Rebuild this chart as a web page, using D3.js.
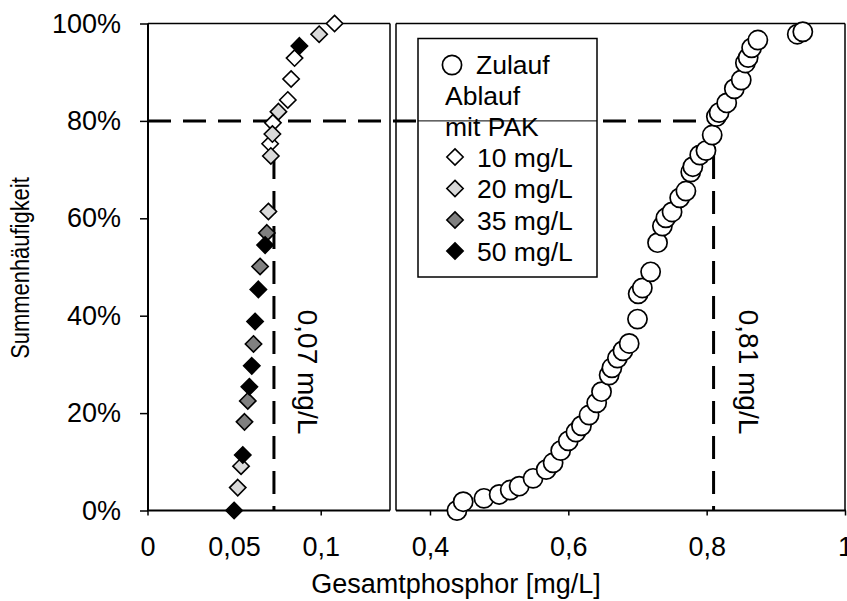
<!DOCTYPE html>
<html>
<head>
<meta charset="utf-8">
<script src="https://cdn.jsdelivr.net/npm/d3@7"></script>
<style>
  html, body { margin: 0; padding: 0; background: #fff; }
  svg { display: block; font-family: "Liberation Sans", Arial, sans-serif; }
</style>
</head>
<body>
<svg id="chart" width="847" height="601"></svg>
<script>
// ---------- data ----------
// Zulauf (influent): total phosphorus [mg/L] and cumulative frequency
const zulaufP = [0.439, 0.448, 0.478, 0.500, 0.516, 0.529, 0.549, 0.568, 0.578, 0.589, 0.600, 0.611, 0.619, 0.630, 0.641, 0.648, 0.659, 0.663, 0.671, 0.679, 0.688, 0.700, 0.701, 0.707, 0.719, 0.729, 0.736, 0.741, 0.750, 0.761, 0.770, 0.777, 0.780, 0.790, 0.799, 0.808, 0.814, 0.818, 0.829, 0.840, 0.850, 0.856, 0.860, 0.865, 0.874, 0.931, 0.939];
const zulaufF = [0.000, 0.018, 0.025, 0.033, 0.042, 0.050, 0.066, 0.084, 0.098, 0.123, 0.143, 0.161, 0.174, 0.196, 0.221, 0.244, 0.278, 0.293, 0.313, 0.328, 0.343, 0.393, 0.445, 0.457, 0.490, 0.550, 0.584, 0.601, 0.613, 0.642, 0.656, 0.695, 0.706, 0.730, 0.739, 0.771, 0.809, 0.817, 0.837, 0.866, 0.884, 0.919, 0.930, 0.950, 0.966, 0.978, 0.983];

// Ablauf mit PAK (effluent with powdered activated carbon)
const pak10P = [0.108, 0.0849, 0.0829, 0.0810, 0.0724, 0.0708];
const pak10F = [1.000, 0.929, 0.886, 0.843, 0.796, 0.753];
const pak20P = [0.0991, 0.0756, 0.0721, 0.0712, 0.0698, 0.0540, 0.0521];
const pak20F = [0.978, 0.819, 0.773, 0.728, 0.614, 0.091, 0.047];
const pak35P = [0.0689, 0.0650, 0.0612, 0.0579, 0.0560];
const pak35F = [0.570, 0.501, 0.342, 0.225, 0.182];
const pak50P = [0.0877, 0.0679, 0.0640, 0.0621, 0.0602, 0.0588, 0.0550, 0.0500];
const pak50F = [0.954, 0.545, 0.454, 0.388, 0.297, 0.254, 0.114, 0.000];

const pakLabels = ["10 mg/L", "20 mg/L", "35 mg/L", "50 mg/L"];
const pakColors = ["#ffffff", "#d9d9d9", "#808080", "#000000"];

// tick values (broken x axis: two segments)
const xTicksLeft = [0, 0.05, 0.1];
const xTicksRight = [0.4, 0.6, 0.8, 1];
const yTicks = [0, 0.2, 0.4, 0.6, 0.8, 1];

// reference markers
const refFreq = 0.8;
const refLeftP = 0.073;   // drawn position of the "0,07 mg/L" marker
const refRightP = 0.81;
const refLeftLabel = "0,07 mg/L";
const refRightLabel = "0,81 mg/L";

// ---------- layout ----------
const svg = d3.select("#chart");
const yTop = 23.5, yBot = 510.5;
const xL0 = 148, xL1 = 390, xR0 = 396, xR1 = 845;

const xLeft = d3.scaleLinear().domain([0, 0.14]).range([xL0 - 0.5, xL1]);
const xRight = d3.scaleLinear().domain([0.35, 1]).range([xR0 - 0.6, xR1]);
const y = d3.scaleLinear().domain([0, 1]).range([yBot, yTop]);

const de = d3.formatLocale({decimal: ",", thousands: ".", grouping: [3], currency: ["", " €"]});
const fmtX = de.format("~g");
const fmtY = d3.format(".0%");

const FONT = 27;

// ---------- axes ----------
const yAxis = d3.axisLeft(y).tickValues(yTicks).tickSize(8).tickPadding(19).tickFormat(fmtY);
const gy = svg.append("g").attr("transform", `translate(${xL0},0)`).call(yAxis);
gy.select(".domain").remove();
gy.selectAll(".tick line").attr("stroke", "#000").attr("stroke-width", 1.5);
gy.selectAll(".tick text").attr("font-size", FONT).attr("fill", "#000")
  .attr("font-family", "Liberation Sans, Arial, sans-serif");

function xAxisGroup(scale, ticks) {
  const ax = d3.axisBottom(scale).tickValues(ticks).tickSize(5).tickPadding(21).tickFormat(fmtX);
  const g = svg.append("g").attr("transform", `translate(0,${yBot})`).call(ax);
  g.select(".domain").remove();
  g.selectAll(".tick line").attr("stroke", "#000").attr("stroke-width", 1.5);
  g.selectAll(".tick text").attr("font-size", FONT).attr("fill", "#000")
    .attr("font-family", "Liberation Sans, Arial, sans-serif");
  return g;
}
xAxisGroup(xLeft, xTicksLeft);
xAxisGroup(xRight, xTicksRight);

// frames
const frame = svg.append("g").attr("fill", "none").attr("stroke", "#000");
frame.append("line").attr("x1", xL0).attr("x2", xL0).attr("y1", yTop).attr("y2", yBot).attr("stroke-width", 2);
frame.append("line").attr("x1", xL0).attr("x2", xL1).attr("y1", yTop).attr("y2", yTop).attr("stroke-width", 1.5);
frame.append("line").attr("x1", xL1).attr("x2", xL1).attr("y1", yTop).attr("y2", yBot).attr("stroke-width", 1.5);
frame.append("line").attr("x1", xR0).attr("x2", xR0).attr("y1", yTop).attr("y2", yBot).attr("stroke-width", 1.5);
frame.append("line").attr("x1", xR0).attr("x2", xR1).attr("y1", yTop).attr("y2", yTop).attr("stroke-width", 1.5);
frame.append("line").attr("x1", xR1).attr("x2", xR1).attr("y1", yTop).attr("y2", yBot).attr("stroke-width", 1.5);
frame.append("line").attr("x1", xL0 - 1).attr("x2", xL1).attr("y1", yBot).attr("y2", yBot).attr("stroke-width", 2.2);
frame.append("line").attr("x1", xR0).attr("x2", xR1 + 1).attr("y1", yBot).attr("y2", yBot).attr("stroke-width", 2.2);

// axis titles
svg.append("text").attr("x", 456).attr("y", 593).attr("text-anchor", "middle")
  .attr("font-size", FONT).text("Gesamtphosphor [mg/L]");
svg.append("text").attr("transform", "translate(29,268) rotate(-90) scale(0.86,1)").attr("text-anchor", "middle")
  .attr("font-size", 25.5).text("Summenhäufigkeit");

// ---------- reference lines ----------
const dash = "23,12";
const refs = svg.append("g").attr("stroke", "#000").attr("stroke-width", 3).attr("stroke-dasharray", dash).attr("fill", "none");
refs.append("line").attr("x1", xL0).attr("x2", xRight(refRightP)).attr("y1", y(refFreq)).attr("y2", y(refFreq));
refs.append("line").attr("x1", xLeft(refLeftP)).attr("x2", xLeft(refLeftP)).attr("y1", y(refFreq)).attr("y2", yBot);
refs.append("line").attr("x1", xRight(refRightP)).attr("x2", xRight(refRightP)).attr("y1", y(refFreq)).attr("y2", yBot);

svg.append("text").attr("transform", `translate(${xLeft(refLeftP) + 24},372) rotate(90)`)
  .attr("text-anchor", "middle").attr("font-size", 28).text(refLeftLabel);
svg.append("text").attr("transform", `translate(${xRight(refRightP) + 25},372) rotate(90)`)
  .attr("text-anchor", "middle").attr("font-size", 28).text(refRightLabel);

// ---------- marks ----------
const diamond = d3.symbol().type(d3.symbolDiamond2).size(170);
const pakSeries = [
  {P: pak10P, F: pak10F},
  {P: pak20P, F: pak20F},
  {P: pak35P, F: pak35F},
  {P: pak50P, F: pak50F}
];
pakSeries.forEach((s, i) => {
  svg.append("g").selectAll("path").data(s.P.map((p, j) => [p, s.F[j]])).join("path")
    .attr("d", diamond)
    .attr("transform", d => `translate(${xLeft(d[0])},${y(d[1])})`)
    .attr("fill", pakColors[i]).attr("stroke", "#000").attr("stroke-width", 1.6);
});

svg.append("g").selectAll("circle").data(zulaufP.map((p, j) => [p, zulaufF[j]])).join("circle")
  .attr("cx", d => xRight(d[0])).attr("cy", d => y(d[1])).attr("r", 9.6)
  .attr("fill", "#fff").attr("stroke", "#000").attr("stroke-width", 1.7);

// ---------- legend ----------
const lg = svg.append("g");
lg.append("rect").attr("x", 418).attr("y", 38.5).attr("width", 179).attr("height", 238.5)
  .attr("fill", "#fff").attr("stroke", "#000").attr("stroke-width", 1.5);
lg.append("circle").attr("cx", 452).attr("cy", 65).attr("r", 9.6)
  .attr("fill", "#fff").attr("stroke", "#000").attr("stroke-width", 1.7);
const LF = 26.5;
lg.append("text").attr("x", 476).attr("y", 73.5).attr("font-size", LF).text("Zulauf");
lg.append("text").attr("x", 445).attr("y", 104.5).attr("font-size", LF).text("Ablauf");
lg.append("text").attr("x", 445).attr("y", 136).attr("font-size", LF).text("mit PAK");
const legY = [157, 188.5, 220, 251];
pakLabels.forEach((lab, i) => {
  lg.append("path").attr("d", diamond).attr("transform", `translate(455,${legY[i]})`)
    .attr("fill", pakColors[i]).attr("stroke", "#000").attr("stroke-width", 1.6);
  lg.append("text").attr("x", 477).attr("y", legY[i] + 9.5).attr("font-size", LF).text(lab);
});
// thin continuation of the 80 % line across the legend
lg.append("line").attr("x1", 418).attr("x2", 597).attr("y1", y(refFreq)).attr("y2", y(refFreq))
  .attr("stroke", "#000").attr("stroke-width", 1);
</script>
</body>
</html>
